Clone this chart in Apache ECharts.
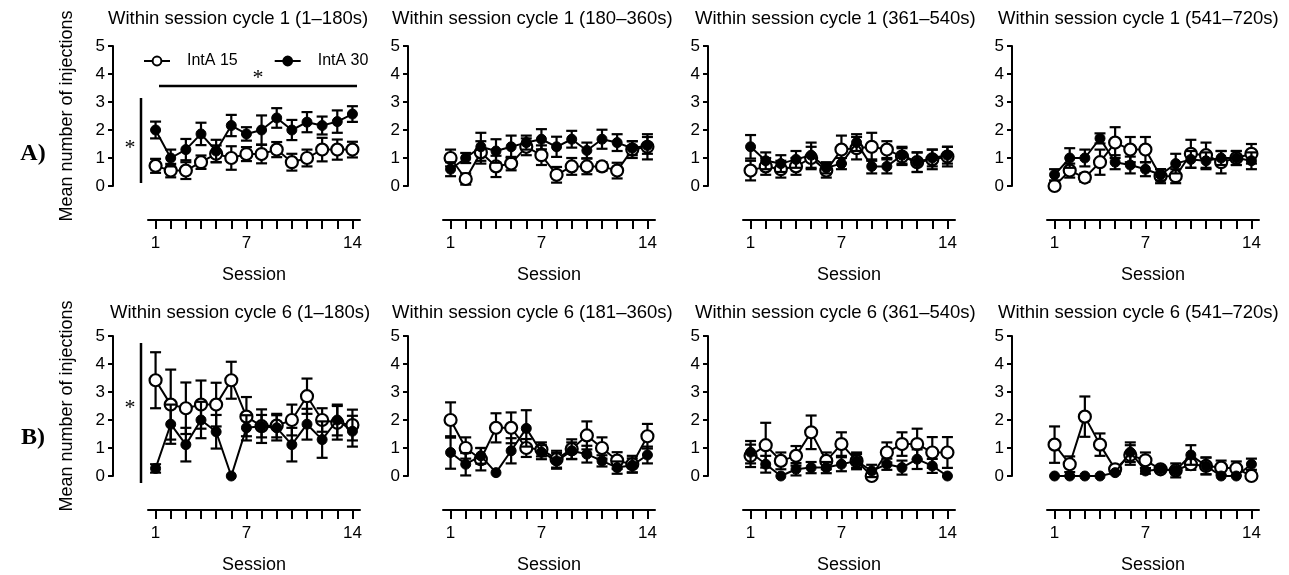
<!DOCTYPE html>
<html>
<head>
<meta charset="utf-8">
<script src="https://cdn.jsdelivr.net/npm/echarts@6/dist/echarts.min.js"></script>
<style>html,body{margin:0;padding:0;background:#fff;}#c{width:1289px;height:575px;}</style>
</head>
<body>
<div id="c"></div>
<script>
// ---- data ----
const sessions = ['1','2','3','4','5','6','7','8','9','10','11','12','13','14'];
const xTickLabels = ['1','7','14'];
const seriesNames = ['IntA 15','IntA 30'];
const titles = [
  'Within session cycle 1 (1–180s)','Within session cycle 1 (180–360s)',
  'Within session cycle 1 (361–540s)','Within session cycle 1 (541–720s)',
  'Within session cycle 6 (1–180s)','Within session cycle 6 (181–360s)',
  'Within session cycle 6 (361–540s)','Within session cycle 6 (541–720s)'
];
// Row A
const a1_i15 = [0.72,0.55,0.55,0.85,1.15,1.0,1.14,1.14,1.3,0.85,1.0,1.3,1.3,1.3];
const a1_i15_sem = [0.25,0.24,0.3,0.24,0.3,0.42,0.25,0.33,0.27,0.3,0.3,0.42,0.36,0.28];
const a1_i30 = [2.0,1.0,1.3,1.86,1.25,2.16,1.86,2.0,2.43,2.0,2.28,2.16,2.3,2.57];
const a1_i30_sem = [0.3,0.3,0.38,0.4,0.4,0.38,0.24,0.52,0.35,0.36,0.36,0.32,0.4,0.28];

const a2_i15 = [1.0,0.25,1.2,0.7,0.8,1.4,1.1,0.4,0.7,0.7,0.7,0.55,1.3,1.4];
const a2_i15_sem = [0.3,0.2,0.4,0.38,0.24,0.3,0.35,0.28,0.3,0.28,0.15,0.28,0.3,0.45];
const a2_i30 = [0.6,1.0,1.4,1.25,1.4,1.55,1.67,1.4,1.67,1.27,1.67,1.55,1.35,1.45];
const a2_i30_sem = [0.25,0.18,0.5,0.42,0.4,0.25,0.36,0.36,0.3,0.28,0.34,0.3,0.25,0.3];

const a3_i15 = [0.55,0.7,0.6,0.7,1.0,0.55,1.3,1.35,1.4,1.3,1.05,0.85,0.95,1.05];
const a3_i15_sem = [0.35,0.3,0.3,0.3,0.4,0.25,0.5,0.4,0.5,0.3,0.3,0.35,0.35,0.35];
const a3_i30 = [1.4,0.9,0.8,0.95,1.1,0.65,0.8,1.55,0.7,0.7,1.1,0.85,1.0,1.1];
const a3_i30_sem = [0.42,0.3,0.3,0.3,0.45,0.2,0.2,0.3,0.25,0.25,0.3,0.35,0.3,0.3];

const a4_i15 = [0.0,0.55,0.3,0.85,1.55,1.3,1.3,0.35,0.35,1.15,1.1,0.85,1.0,1.15];
const a4_i15_sem = [0,0.25,0.15,0.45,0.55,0.45,0.45,0.25,0.25,0.5,0.45,0.4,0.25,0.35];
const a4_i30 = [0.4,1.0,1.0,1.7,0.85,0.75,0.6,0.4,0.8,0.95,0.9,1.0,1.0,0.9];
const a4_i30_sem = [0.2,0.35,0.3,0.18,0.25,0.3,0.25,0.2,0.35,0.3,0.3,0.25,0.25,0.3];
// Row B
const b1_i15 = [3.42,2.55,2.42,2.55,2.55,3.42,2.12,1.78,1.8,2.0,2.85,2.0,1.9,1.82];
const b1_i15_sem = [1.0,1.25,0.92,0.86,0.78,0.66,0.7,0.6,0.42,0.55,0.63,0.42,0.6,0.55];
const b1_i30 = [0.27,1.85,1.12,2.0,1.58,0.0,1.72,1.78,1.72,1.12,1.85,1.3,2.0,1.6];
const b1_i30_sem = [0.15,0.7,0.6,0.65,0.6,0,0.45,0.4,0.45,0.6,0.55,0.65,0.55,0.55];

const b2_i15 = [2.0,1.0,0.6,1.72,1.72,1.0,0.95,0.6,0.96,1.45,1.0,0.55,0.42,1.42];
const b2_i15_sem = [0.63,0.38,0.4,0.52,0.55,0.32,0.25,0.3,0.35,0.5,0.38,0.3,0.3,0.44];
const b2_i30 = [0.84,0.42,0.72,0.12,0.9,1.7,0.85,0.54,0.9,0.78,0.54,0.3,0.38,0.75];
const b2_i30_sem = [0.58,0.4,0.28,0,0.45,0.65,0.25,0.28,0.3,0.3,0.2,0.22,0.25,0.3];

const b3_i15 = [0.72,1.1,0.54,0.72,1.56,0.54,1.14,0.54,0.0,0.84,1.14,1.14,0.84,0.84];
const b3_i15_sem = [0.4,0.8,0.3,0.35,0.6,0.3,0.42,0.3,0,0.36,0.42,0.55,0.55,0.55];
const b3_i30 = [0.85,0.42,0.0,0.24,0.3,0.3,0.42,0.54,0.18,0.42,0.3,0.6,0.36,0.0];
const b3_i30_sem = [0.4,0.3,0,0.22,0.2,0.2,0.25,0.25,0.22,0.2,0.25,0.35,0.25,0];

const b4_i15 = [1.12,0.42,2.12,1.12,0.24,0.75,0.56,0.24,0.2,0.42,0.36,0.3,0.27,0.0];
const b4_i15_sem = [0.65,0.28,0.72,0.4,0.12,0.35,0.28,0.1,0.25,0.2,0.3,0.25,0.25,0];
const b4_i30 = [0,0,0,0,0.12,0.85,0.18,0.24,0.2,0.75,0.36,0,0,0.42];
const b4_i30_sem = [0,0,0,0,0.05,0.35,0.1,0.1,0.1,0.35,0.3,0,0,0.2];

const panels = [
  [a1_i15,a1_i15_sem,a1_i30,a1_i30_sem],[a2_i15,a2_i15_sem,a2_i30,a2_i30_sem],
  [a3_i15,a3_i15_sem,a3_i30,a3_i30_sem],[a4_i15,a4_i15_sem,a4_i30,a4_i30_sem],
  [b1_i15,b1_i15_sem,b1_i30,b1_i30_sem],[b2_i15,b2_i15_sem,b2_i30,b2_i30_sem],
  [b3_i15,b3_i15_sem,b3_i30,b3_i30_sem],[b4_i15,b4_i15_sem,b4_i30,b4_i30_sem]
];

// ---- layout ----
const FONT = '"Liberation Sans", Arial, Helvetica, sans-serif';
const axisXs = [113, 408, 708, 1012];
const titleLefts = [108, 392, 695, 998];
const rowTop = [46, 336];
const plotH = 140, plotW = 212, yOff = 35, xOff = 34;

const grids = [], xAxes = [], yAxes = [], series = [], titleArr = [];
function errRender(params, api) {
  const x = api.value(0), v = api.value(1), s = api.value(2);
  if (!s) return null;
  const t = api.coord([x, v + s]), b = api.coord([x, v - s]);
  const w = 5.5;
  const st = {stroke:'#000', lineWidth:2.2};
  return {type:'group', children:[
    {type:'line', shape:{x1:t[0], y1:t[1], x2:b[0], y2:b[1]}, style:st},
    {type:'line', shape:{x1:t[0]-w, y1:t[1], x2:t[0]+w, y2:t[1]}, style:st},
    {type:'line', shape:{x1:b[0]-w, y1:b[1], x2:b[0]+w, y2:b[1]}, style:st}
  ]};
}
panels.forEach((p, i) => {
  const col = i % 4, row = Math.floor(i / 4);
  grids.push({left: axisXs[col] + yOff, top: rowTop[row], width: plotW, height: plotH});
  titleArr.push({text: titles[i], left: titleLefts[col] + (row === 1 && col === 0 ? 2 : 0), top: row === 0 ? 9 : 303, padding: 0,
    textStyle:{fontSize:18.5, fontWeight:'normal', color:'#000', fontFamily:FONT}});
  xAxes.push({type:'category', gridIndex:i, data:sessions, boundaryGap:true, position:'bottom', offset:xOff,
    axisLine:{show:true, onZero:false, lineStyle:{color:'#000', width:2}},
    axisTick:{show:true, alignWithLabel:true, interval:0, inside:false, length:9, lineStyle:{color:'#000', width:2}},
    axisLabel:{interval:(idx, val) => xTickLabels.includes(val), margin:15, fontSize:17, color:'#000', fontFamily:FONT},
    splitLine:{show:false},
    name:'Session', nameLocation:'middle', nameGap:46, nameTextStyle:{fontSize:18, color:'#000', fontFamily:FONT}});
  const ya = {type:'value', gridIndex:i, min:0, max:5, interval:1, position:'left', offset:yOff,
    axisLine:{show:true, onZero:false, lineStyle:{color:'#000', width:2}},
    axisTick:{show:true, length:5, lineStyle:{color:'#000', width:2}},
    axisLabel:{fontSize:17, color:'#000', margin:8, fontFamily:FONT},
    splitLine:{show:false}};
  if (col === 0) {
    ya.name = 'Mean number of injections'; ya.nameLocation = 'middle'; ya.nameGap = 37;
    ya.nameTextStyle = {fontSize:18, color:'#000', fontFamily:FONT};
  }
  yAxes.push(ya);
  const [o, os, f, fs] = p;
  series.push({type:'custom', name:'IntA 15 SEM', xAxisIndex:i, yAxisIndex:i, renderItem:errRender, z:2,
    data:o.map((v, k) => [k, v, os[k]])});
  series.push({type:'line', name:seriesNames[0], xAxisIndex:i, yAxisIndex:i, data:o, z:3,
    symbol:'circle', symbolSize:12, showAllSymbol:true,
    lineStyle:{color:'#000', width:2}, itemStyle:{color:'#fff', borderColor:'#000', borderWidth:2.2}});
  series.push({type:'custom', name:'IntA 30 SEM', xAxisIndex:i, yAxisIndex:i, renderItem:errRender, z:4,
    data:f.map((v, k) => [k, v, fs[k]])});
  series.push({type:'line', name:seriesNames[1], xAxisIndex:i, yAxisIndex:i, data:f, z:5,
    symbol:'circle', symbolSize:10, showAllSymbol:true,
    lineStyle:{color:'#000', width:2}, itemStyle:{color:'#000', borderColor:'#000', borderWidth:1}});
});

const ln = (x1,y1,x2,y2) => ({type:'line', shape:{x1,y1,x2,y2}, style:{stroke:'#000', lineWidth:2.5}});
const tx = (x,y,t,font) => ({type:'text', x, y, style:{text:t, font, fill:'#000', align:'center', verticalAlign:'middle'}});
const graphic = [
  tx(33, 154, 'A)', 'bold 24px "Liberation Serif", "Times New Roman", serif'),
  tx(33, 438, 'B)', 'bold 24px "Liberation Serif", "Times New Roman", serif'),
  ln(159, 86, 357, 86), tx(258, 78, '*', '22px "Liberation Serif", serif'),
  ln(141, 98, 141, 183), tx(130, 148, '*', '22px "Liberation Serif", serif'),
  ln(141, 343, 141, 483), tx(130, 408, '*', '22px "Liberation Serif", serif')
];

const chart = echarts.init(document.getElementById('c'), null, {renderer:'canvas'});
chart.setOption({
  animation:false,
  backgroundColor:'#fff',
  textStyle:{fontFamily:FONT},
  title:titleArr,
  legend:{data:seriesNames, left:143, top:53, padding:0, itemWidth:26, itemHeight:11, itemGap:36,
    textStyle:{fontSize:16, color:'#000', fontFamily:FONT, padding:[0,0,0,12]}},
  grid:grids, xAxis:xAxes, yAxis:yAxes, series:series, graphic:graphic
});
</script>
</body>
</html>
